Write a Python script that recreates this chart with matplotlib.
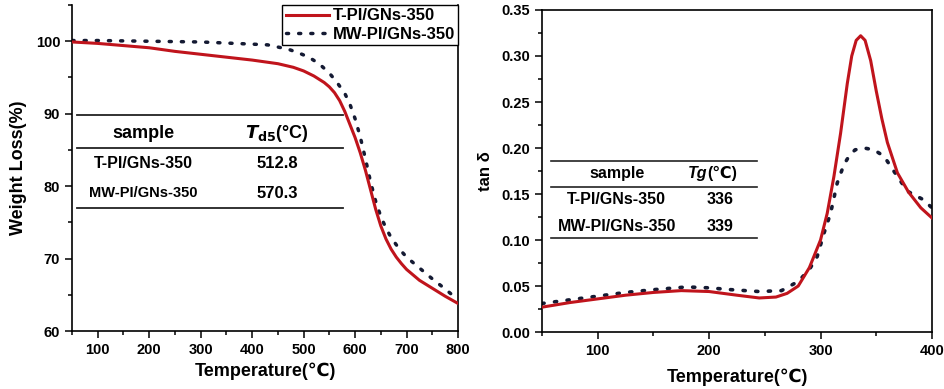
import matplotlib.pyplot as plt
from matplotlib.ticker import MultipleLocator
from matplotlib.lines import Line2D

plt.rcParams['font.family'] = ['Liberation Sans', 'DejaVu Sans']
plt.rcParams['font.weight'] = 'bold'

# TGA data
tga_x_t = [50, 100, 150, 200, 250, 300, 350, 400, 450, 480, 500, 520, 540, 550, 560,
           570, 580, 590, 600, 610, 620, 630, 640, 650, 660, 670, 680, 690, 700, 725,
           750, 775, 800]
tga_t = [99.9, 99.7, 99.4, 99.1, 98.6, 98.2, 97.8, 97.4, 96.9, 96.4, 95.9, 95.2, 94.3,
         93.7, 92.9, 91.8, 90.3, 88.5, 86.7, 84.6, 82.2, 79.5, 76.8, 74.5, 72.7, 71.3,
         70.2, 69.3, 68.5, 67.0, 65.9, 64.8, 63.8]

tga_x_mw = [50, 100, 200, 300, 400, 430, 450, 470, 490, 510, 530, 550, 565, 580, 590,
            600, 610, 620, 630, 640, 650, 660, 670, 680, 690, 700, 720, 750, 775, 800]
tga_mw = [100.1, 100.1, 100.0, 99.9, 99.6, 99.5, 99.2, 98.9, 98.4, 97.8, 96.9, 95.6,
          94.3, 92.8, 91.3, 89.3, 86.8, 83.8, 80.6, 77.9, 75.8, 74.2, 72.9, 71.9, 71.0,
          70.2, 69.0, 67.2, 65.8, 64.3]

# DMA data
dma_x_t = [50, 75, 100, 125, 150, 175, 200, 225, 245, 260, 270, 280, 290, 300, 306,
           312, 318, 324, 328, 332, 336, 340, 345, 350, 355, 360, 369, 379, 390, 400]
dma_t = [0.027, 0.032, 0.036, 0.040, 0.043, 0.045, 0.044, 0.040, 0.037, 0.038, 0.042,
         0.050, 0.070, 0.100, 0.129, 0.169, 0.216, 0.270, 0.300, 0.317, 0.322, 0.317,
         0.295, 0.262, 0.232, 0.206, 0.173, 0.152, 0.135, 0.124]

dma_x_mw = [50, 75, 100, 125, 150, 180, 200, 220, 245, 265, 280, 290, 297, 303, 309,
            315, 321, 326, 331, 339, 348, 357, 369, 378, 392, 400]
dma_mw = [0.031, 0.035, 0.039, 0.043, 0.046, 0.049, 0.048, 0.046, 0.044, 0.045, 0.055,
          0.068, 0.082, 0.107, 0.129, 0.162, 0.182, 0.192, 0.198, 0.200, 0.198, 0.191,
          0.169, 0.153, 0.144, 0.135]

labels = ['T-PI/GNs-350', 'MW-PI/GNs-350']
td5 = ['512.8', '570.3']
tg = ['336', '339']

red = '#c0141c'
navy = '#141a33'
dots = (0, (0.6, 2.9))

fig = plt.figure(figsize=(9.45, 3.89), dpi=100)
ax1 = fig.add_axes([0.0762, 0.1491, 0.4085, 0.838])
ax2 = fig.add_axes([0.5735, 0.1465, 0.4127, 0.8278])


def style(ax):
    for s in ax.spines.values():
        s.set_linewidth(1.2)
    ax.tick_params(which='both', direction='out', top=False, right=False,
                   labelsize=10.5, width=1.1)
    ax.tick_params(which='major', length=5)
    ax.tick_params(which='minor', length=3)
    for lab in ax.get_xticklabels() + ax.get_yticklabels():
        lab.set_fontweight('bold')


# left panel
ax1.plot(tga_x_t, tga_t, color=red, lw=2.2, zorder=3)
ax1.plot(tga_x_mw, tga_mw, color=navy, lw=2.5, linestyle=dots,
         dash_capstyle='round', zorder=2)
ax1.set_xlim(50, 800)
ax1.set_ylim(60, 105)
ax1.spines['top'].set_visible(False)
ax1.xaxis.set_major_locator(MultipleLocator(100))
ax1.xaxis.set_minor_locator(MultipleLocator(50))
ax1.yaxis.set_major_locator(MultipleLocator(10))
ax1.yaxis.set_minor_locator(MultipleLocator(5))
ax1.set_xlabel('Temperature(\u2103)', fontsize=13, fontweight='bold', labelpad=4)
ax1.set_ylabel('Weight Loss(%)', fontsize=13, fontweight='bold', labelpad=6)
style(ax1)

handles = [Line2D([], [], color=red, lw=2.2),
           Line2D([], [], color=navy, lw=2.5, linestyle=dots, dash_capstyle='round')]
leg = ax1.legend(handles, labels, loc='upper right', bbox_to_anchor=(1.0, 1.0),
                 fancybox=False, edgecolor='black', framealpha=1,
                 prop={'size': 12, 'weight': 'bold'}, handlelength=2.6,
                 borderaxespad=0, borderpad=0.2, labelspacing=0.2, handletextpad=0.2)
leg.get_frame().set_linewidth(1.0)

# left table
for yy in [0.663, 0.561, 0.377]:
    ax1.plot([0.013, 0.702], [yy, yy], color='#222222', lw=1.3, transform=ax1.transAxes)
ax1.text(0.184, 0.607, 'sample', transform=ax1.transAxes, ha='center', va='center',
         fontsize=13, fontweight='bold')
ax1.text(0.531, 0.607, r'$\mathbf{\mathit{T}}_{\mathbf{d5}}$' + '(\u00b0C)',
         transform=ax1.transAxes, ha='center', va='center', fontsize=13,
         fontweight='bold')
for i, yy in enumerate([0.515, 0.423]):
    ax1.text(0.184, yy, labels[i], transform=ax1.transAxes, ha='center', va='center',
             fontsize=11.5 if i == 0 else 10.5, fontweight='bold')
    ax1.text(0.531, yy, td5[i], transform=ax1.transAxes, ha='center', va='center',
             fontsize=12, fontweight='bold')

# right panel
ax2.plot(dma_x_mw, dma_mw, color=navy, lw=2.6, linestyle=dots,
         dash_capstyle='round', zorder=2)
ax2.plot(dma_x_t, dma_t, color=red, lw=2.2, zorder=3)
ax2.set_xlim(50, 400)
ax2.set_ylim(0, 0.35)
ax2.xaxis.set_major_locator(MultipleLocator(100))
ax2.xaxis.set_minor_locator(MultipleLocator(50))
ax2.yaxis.set_major_locator(MultipleLocator(0.05))
ax2.yaxis.set_minor_locator(MultipleLocator(0.025))
ax2.yaxis.set_major_formatter(plt.FormatStrFormatter('%.2f'))
ax2.set_xlabel('Temperature(\u2103)', fontsize=13, fontweight='bold', labelpad=8)
ax2.set_ylabel('tan \u03b4', fontsize=12, fontweight='bold', labelpad=6)
style(ax2)

for yy in [0.531, 0.450, 0.292]:
    ax2.plot([0.023, 0.551], [yy, yy], color='#222222', lw=1.2, transform=ax2.transAxes)
ax2.text(0.192, 0.491, 'sample', transform=ax2.transAxes, ha='center', va='center',
         fontsize=11.5, fontweight='bold')
ax2.text(0.425, 0.491, 'Tg', transform=ax2.transAxes, ha='right', va='center',
         fontsize=11.5, fontweight='bold', style='italic')
ax2.text(0.425, 0.491, '(\u2103)', transform=ax2.transAxes, ha='left', va='center',
         fontsize=11.5, fontweight='bold')
for i, yy in enumerate([0.413, 0.329]):
    ax2.text(0.192, yy, labels[i], transform=ax2.transAxes, ha='center', va='center',
             fontsize=11.5, fontweight='bold')
    ax2.text(0.456, yy, tg[i], transform=ax2.transAxes, ha='center', va='center',
             fontsize=11.5, fontweight='bold')

fig.savefig('out.png', dpi=100)
